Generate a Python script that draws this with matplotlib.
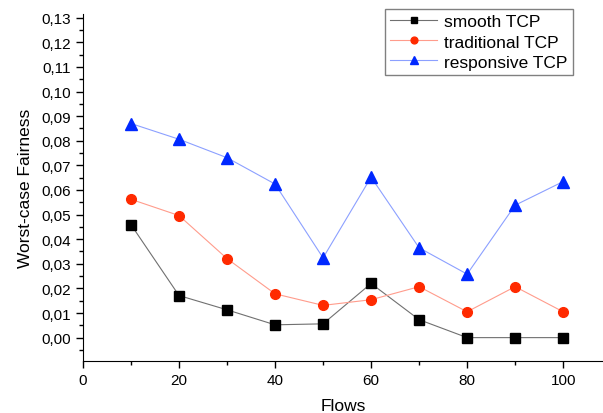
import matplotlib
matplotlib.use('Agg')
import matplotlib.pyplot as plt
from matplotlib.ticker import MultipleLocator, FuncFormatter

plt.rcParams['font.family'] = ['Liberation Sans', 'DejaVu Sans']

flows = [10, 20, 30, 40, 50, 60, 70, 80, 90, 100]
smooth = [0.0459, 0.0171, 0.0113, 0.0052, 0.0056, 0.0220, 0.0073, 0.0, 0.0, 0.0]
traditional = [0.0562, 0.0496, 0.0321, 0.0178, 0.0131, 0.0154, 0.0207, 0.0105, 0.0207, 0.0105]
responsive = [0.0870, 0.0806, 0.0731, 0.0624, 0.0324, 0.0652, 0.0365, 0.0258, 0.0538, 0.0634]

fig = plt.figure(figsize=(6.03, 4.14), dpi=100)
ax = fig.add_axes([0.1376, 0.1256, 0.8624, 0.8382])

ax.plot(flows, smooth, color='#707070', lw=0.8, marker='s', ms=6.5,
        mfc='black', mec='black', label='smooth TCP')
ax.plot(flows, traditional, color='#ff9c8c', lw=0.8, marker='o', ms=7,
        mfc='#ff2a00', mec='#ff2a00', label='traditional TCP')
ax.plot(flows, responsive, color='#8ca0ff', lw=0.8, marker='^', ms=8,
        mfc='#0028ff', mec='#0028ff', label='responsive TCP')

ax.set_xlim(0, 108.3)
ax.set_ylim(-0.0095, 0.1315)
ax.spines['top'].set_visible(False)
ax.spines['right'].set_visible(False)
ax.xaxis.set_major_locator(MultipleLocator(20))
ax.xaxis.set_minor_locator(MultipleLocator(10))
ax.yaxis.set_major_locator(MultipleLocator(0.01))
ax.yaxis.set_minor_locator(MultipleLocator(0.005))
ax.yaxis.set_major_formatter(FuncFormatter(lambda v, p: ('%.2f' % v).replace('.', ',')))
ax.tick_params(which='major', length=5, width=1, labelsize=11)
ax.tick_params(which='minor', length=3, width=1)
ax.set_xlabel('Flows', fontsize=12.5, labelpad=8)
ax.set_ylabel('Worst-case Fairness', fontsize=12.5, labelpad=6)

leg = ax.legend(loc='upper right', bbox_to_anchor=(0.942, 1.014), fontsize=12.5,
                fancybox=False, framealpha=1, borderpad=0.3, labelspacing=0.28,
                handlelength=2.7, handletextpad=0.4, borderaxespad=0,
                markerscale=0.7)
leg.get_frame().set_edgecolor('#808080')
leg.get_frame().set_linewidth(1)

fig.savefig('out.png', dpi=100)
